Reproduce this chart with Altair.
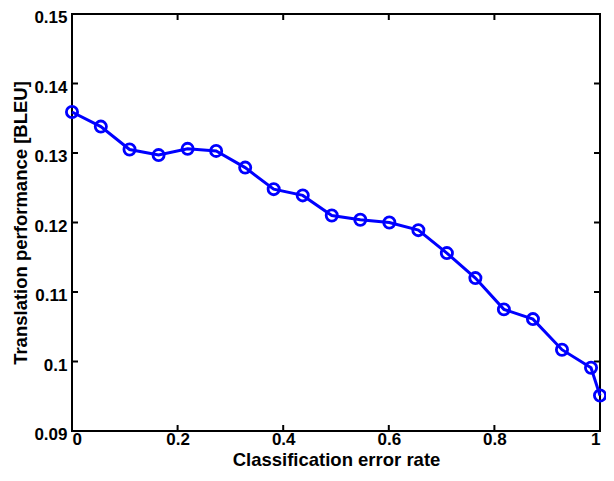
import altair as alt
import pandas as pd

# Data
x_vals = [0.0, 0.0546, 0.109, 0.164, 0.219, 0.273, 0.328, 0.382, 0.437, 0.492,
          0.546, 0.601, 0.656, 0.710, 0.764, 0.818, 0.873, 0.928, 0.983, 1.0]
y_vals = [0.1359, 0.1338, 0.1305, 0.1297, 0.1306, 0.1303, 0.1279, 0.1248, 0.1239, 0.1210,
          0.1204, 0.1200, 0.1189, 0.1156, 0.1120, 0.1075, 0.1061, 0.1017, 0.0991, 0.0951]
x_ticks = [0, 0.2, 0.4, 0.6, 0.8, 1]
y_ticks = [0.09, 0.1, 0.11, 0.12, 0.13, 0.14, 0.15]

W, H = 528, 417
TL = 6
FONT = "Liberation Sans"

df = pd.DataFrame({"x": x_vals, "y": y_vals})
xt = pd.DataFrame({"x": x_ticks})
yt = pd.DataFrame({"y": y_ticks})

xs = alt.Scale(domain=[0, 1], nice=False, zero=False)
ys = alt.Scale(domain=[0.09, 0.15], nice=False, zero=False)

x_axis = alt.Axis(values=x_ticks, format="~g", title="Classification error rate",
                  labelPadding=0, titlePadding=3)
y_axis = alt.Axis(values=y_ticks, format="~g", title="Translation performance [BLEU]",
                  labelPadding=5, labelOffset=3.5, titlePadding=3)

X = alt.X("x:Q", scale=xs, axis=x_axis)
Y = alt.Y("y:Q", scale=ys, axis=y_axis)

line = alt.Chart(df).mark_line(color="#0000ff", strokeWidth=3, clip=False).encode(x=X, y=Y)
pts = alt.Chart(df).mark_point(shape="circle", filled=False, size=125, strokeWidth=2.8,
                               color="#0000ff", opacity=1, clip=False).encode(x=X, y=Y)

tick_style = dict(color="black", strokeWidth=2)
xt_bottom = alt.Chart(xt).mark_rule(**tick_style).encode(x=X, y=alt.value(H), y2=alt.value(H - TL))
xt_top = alt.Chart(xt).mark_rule(**tick_style).encode(x=X, y=alt.value(0), y2=alt.value(TL))
yt_left = alt.Chart(yt).mark_rule(**tick_style).encode(y=Y, x=alt.value(0), x2=alt.value(TL))
yt_right = alt.Chart(yt).mark_rule(**tick_style).encode(y=Y, x=alt.value(W), x2=alt.value(W - TL))

chart = alt.layer(line, xt_bottom, xt_top, yt_left, yt_right, pts).properties(
    width=W, height=H,
    autosize=alt.AutoSizeParams(type="none"),
    padding={"left": 64, "top": 6, "right": 6, "bottom": 42},
).configure_view(
    stroke="black", strokeWidth=2
).configure_axis(
    grid=False, ticks=False, domain=False,
    labelFont=FONT, labelFontSize=17, labelFontWeight="bold", labelColor="black",
    titleFont=FONT, titleFontSize=18.5, titleFontWeight="bold", titleColor="black",
)

chart.save("out.html", embed_options={"renderer": "svg", "actions": False})
